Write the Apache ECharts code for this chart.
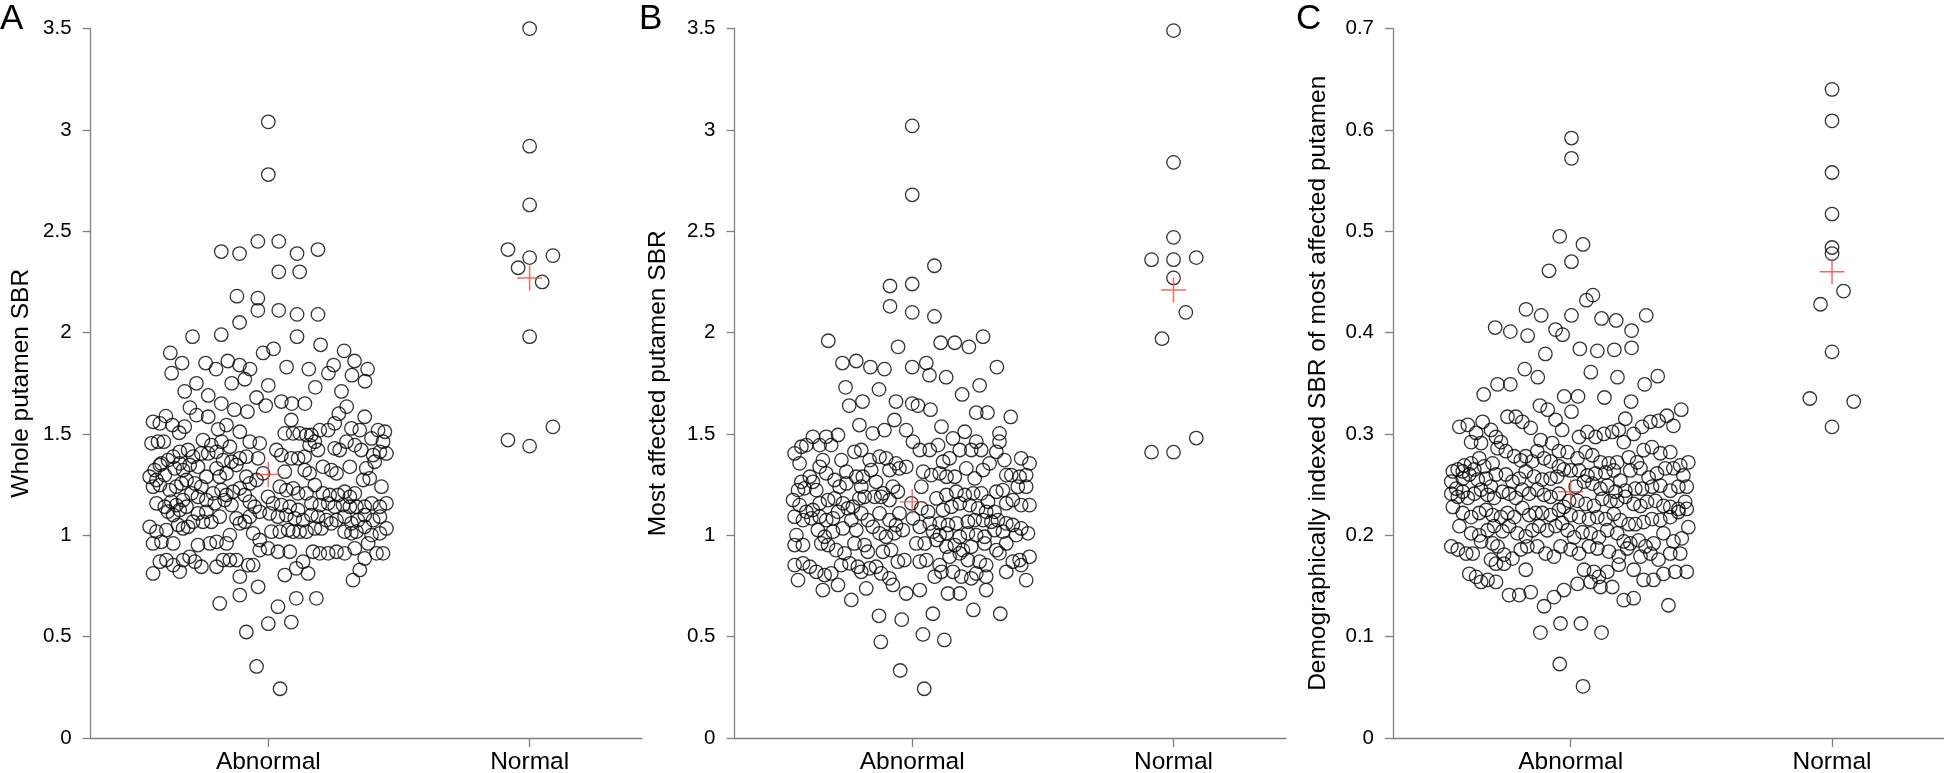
<!DOCTYPE html>
<html><head><meta charset="utf-8">
<script src="https://cdn.jsdelivr.net/npm/echarts@6/dist/echarts.min.js"></script>
<style>html,body{margin:0;padding:0;background:#fff}#c{width:1944px;height:773px}</style>
</head><body><div id="c"></div>
<script>
// ---------- categories / labels ----------
const categories = ['Abnormal', 'Normal'];
const panelLetters = ['A', 'B', 'C'];
const yNames = ['Whole putamen SBR', 'Most affected putamen SBR', 'Demographically indexed SBR of most affected putamen'];
const yTicksAB = ['0', '0.5', '1', '1.5', '2', '2.5', '3', '3.5'];
const yTicksC = ['0', '0.1', '0.2', '0.3', '0.4', '0.5', '0.6', '0.7'];

// ---------- data: [horizontal offset from category centre, value] ----------
const abnormalA = [
[0,3.04],[0,2.78],[-0.04,2.45],[0.04,2.45],[-0.18,2.40],[-0.11,2.39],[0.11,2.39],[0.19,2.41],[0.04,2.30],[0.12,2.30],[-0.12,2.18],[-0.04,2.17],[-0.04,2.11],[0.04,2.11],[0.11,2.09],[0.19,2.09],[-0.11,2.05],[-0.18,1.99],[-0.29,1.98],[0.11,1.98],[0.02,1.92],[-0.02,1.90],[0.2,1.94],[0.29,1.91],[-0.375,1.90],[-0.33,1.85],[-0.37,1.80],[-0.24,1.85],[-0.2,1.82],[-0.155,1.86],[-0.11,1.84],[-0.07,1.82],[0.07,1.83],[0.155,1.82],[0.23,1.80],[0.25,1.84],[0.33,1.86],[0.38,1.82],[0.32,1.79],[0.37,1.76],[-0.09,1.77],[-0.14,1.75],[-0.275,1.75],[0,1.74],[0.18,1.73],[-0.32,1.71],[-0.23,1.69],[0.28,1.71],[-0.18,1.65],[-0.045,1.68],[-0.01,1.64],[0.05,1.66],[0.09,1.65],[0.14,1.65],[0.30,1.635],[0.27,1.60],[-0.30,1.63],[-0.13,1.62],[-0.08,1.61],
[-0.441,1.560],[-0.415,1.552],[-0.392,1.588],[-0.367,1.544],[-0.341,1.506],[-0.320,1.536],[-0.275,1.593],[-0.230,1.585],[-0.192,1.523],[-0.160,1.544],[-0.109,1.511],[-0.071,1.462],[-0.033,1.454],[-0.447,1.454],[-0.422,1.462],[-0.400,1.462],[-0.250,1.470],[-0.218,1.445],[-0.179,1.462],[-0.147,1.437],[-0.339,1.412],[-0.307,1.421],[-0.288,1.388],[-0.364,1.388],[-0.384,1.371],[-0.409,1.355],[-0.256,1.404],[-0.230,1.404],[-0.198,1.412],[-0.173,1.371],[-0.141,1.363],[-0.109,1.380],[-0.084,1.388],[-0.039,1.380],[-0.435,1.322],[-0.415,1.347],[-0.454,1.289],[-0.428,1.273],[-0.441,1.240],[-0.415,1.248],[-0.396,1.297],[-0.339,1.355],[-0.326,1.322],[-0.358,1.330],[-0.301,1.347],[-0.269,1.338],[-0.237,1.289],[-0.198,1.330],[-0.186,1.289],[-0.160,1.306],[-0.122,1.347],[-0.084,1.289],[-0.071,1.256],[-0.045,1.273],[-0.020,1.306],[-0.377,1.223],[-0.352,1.240],[-0.332,1.256],[-0.313,1.273],[-0.281,1.256],[-0.256,1.240],[-0.211,1.207],[-0.179,1.223],[-0.160,1.199],[-0.135,1.215],[-0.109,1.232],[-0.090,1.199],[-0.428,1.158],[-0.396,1.141],[-0.371,1.166],[-0.352,1.149],[-0.326,1.174],[-0.294,1.207],[-0.269,1.190],[-0.237,1.174],[-0.205,1.158],[-0.167,1.174],[-0.141,1.149],[-0.071,1.166],[-0.052,1.141],[-0.033,1.116],[-0.384,1.117],[-0.364,1.100],[-0.339,1.125],[-0.313,1.141],[-0.269,1.108],[-0.237,1.116],[-0.250,1.067],[-0.288,1.067],[-0.218,1.067],[-0.186,1.092],[-0.122,1.084],[-0.109,1.059],[-0.090,1.067],[-0.071,1.092],[-0.454,1.042],[-0.428,1.018],[-0.390,1.026],[-0.345,1.051],[-0.326,1.034],[-0.307,1.042],[-0.441,0.960],[-0.409,0.968],[-0.364,0.960],[-0.269,0.952],[-0.224,0.960],[-0.198,0.968],[-0.160,0.960],[-0.147,1.001],[-0.058,1.010],[-0.033,0.977],[-0.033,0.927],[-0.415,0.870],[-0.390,0.878],[-0.364,0.853],[-0.326,0.878],[-0.301,0.894],[-0.281,0.870],[-0.256,0.845],[-0.198,0.845],[-0.173,0.878],[-0.147,0.878],[-0.122,0.878],[-0.077,0.853],[-0.058,0.853],[-0.441,0.812],[-0.339,0.821],[-0.109,0.796],[-0.039,0.746],[-0.109,0.705],[-0.186,0.664],
[0.088,1.569],[0.063,1.503],[0.095,1.503],[0.120,1.503],[0.146,1.495],[0.165,1.495],[0.197,1.519],[0.229,1.519],[0.254,1.552],[0.369,1.585],[0.318,1.528],[0.350,1.519],[0.395,1.478],[0.420,1.519],[0.446,1.511],[0.439,1.462],[0.178,1.462],[0.158,1.445],[0.190,1.421],[0.254,1.429],[0.273,1.421],[0.299,1.462],[0.331,1.445],[0.356,1.421],[0.031,1.421],[0.050,1.396],[0.088,1.380],[0.114,1.380],[0.139,1.388],[0.401,1.396],[0.427,1.412],[0.452,1.404],[0.063,1.314],[0.139,1.322],[0.158,1.306],[0.209,1.338],[0.241,1.322],[0.261,1.306],[0.312,1.338],[0.375,1.330],[0.388,1.281],[0.363,1.273],[0.407,1.363],[0.433,1.240],[0.044,1.240],[0.069,1.223],[0.095,1.232],[0.114,1.207],[0.146,1.207],[0.178,1.248],[0.209,1.207],[0.235,1.199],[0.267,1.199],[0.292,1.215],[0.312,1.190],[0.331,1.207],[0.395,1.158],[0.427,1.141],[0.452,1.158],[-0.001,1.190],[0.018,1.158],[0.050,1.149],[0.082,1.141],[0.114,1.125],[0.165,1.158],[0.197,1.149],[0.229,1.158],[0.254,1.141],[0.286,1.149],[0.312,1.141],[0.337,1.141],[0.369,1.141],[0.005,1.108],[0.037,1.092],[0.069,1.100],[0.101,1.084],[0.133,1.075],[0.165,1.100],[0.190,1.092],[0.222,1.075],[0.241,1.059],[0.261,1.075],[0.292,1.092],[0.318,1.059],[0.343,1.075],[0.369,1.100],[0.401,1.075],[0.427,1.092],[0.452,1.034],[0.012,1.018],[0.044,1.018],[0.076,1.026],[0.095,1.018],[0.120,1.018],[0.146,1.018],[0.178,1.034],[0.203,1.034],[0.292,1.018],[0.318,1.010],[0.337,1.018],[0.369,1.042],[0.395,1.001],[0.427,1.010],[-0.001,0.936],[0.037,0.919],[0.082,0.919],[0.171,0.919],[0.197,0.911],[0.229,0.911],[0.261,0.919],[0.292,0.911],[0.331,0.936],[0.382,0.960],[0.414,0.911],[0.439,0.911],[0.369,0.886],[0.133,0.870],[0.107,0.837],[0.152,0.812],[0.063,0.804],[0.350,0.829],[0.324,0.779],[0.037,0.648],[0.107,0.689],[0.184,0.689],
[-0.084,0.523],[0,0.564],[0.088,0.572],[-0.045,0.353],[0.045,0.243]
];
const normalA = [[0,3.50],[0,2.92],[0,2.63],[-0.083,2.41],[0.089,2.38],[0,2.37],[-0.044,2.32],[0.048,2.25],[0,1.98],[0.089,1.535],[-0.083,1.47],[0,1.44]];
const meanA = [1.30, 2.27];

const abnormalB = [
[0,3.02],[0,2.68],[0.085,2.33],[-0.085,2.23],[0,2.24],[-0.085,2.13],[0,2.10],[0.085,2.08],[-0.321,1.96],[-0.054,1.93],[0.109,1.95],[0.163,1.95],[0.217,1.93],[0.271,1.98],[-0.267,1.85],[-0.214,1.86],[-0.16,1.83],[-0.106,1.82],[0,1.83],[0.054,1.85],[0.066,1.79],[0.13,1.78],[0.324,1.83],[-0.255,1.73],[-0.127,1.72],[0.258,1.74],[0.191,1.695],[-0.241,1.64],[-0.19,1.66],[-0.062,1.66],[0,1.65],[0.022,1.64],[0.07,1.62],[0.245,1.605],[0.288,1.605],[0.377,1.584],
[-0.127,0.603],[-0.04,0.584],[0.079,0.613],[0.234,0.632],[0.337,0.613],[-0.12,0.474],[0.041,0.511],[0.123,0.484],[-0.046,0.333],[0.046,0.243],
[-0.202,1.544],[-0.151,1.503],[-0.106,1.519],[-0.068,1.569],[-0.023,1.519],[-0.380,1.486],[-0.329,1.486],[-0.284,1.495],[-0.405,1.445],[-0.354,1.445],[-0.310,1.445],[-0.450,1.404],[-0.424,1.437],[-0.221,1.412],[-0.195,1.421],[-0.163,1.371],[-0.125,1.388],[-0.100,1.380],[-0.062,1.355],[-0.023,1.338],[-0.271,1.371],[-0.342,1.371],[-0.354,1.338],[-0.431,1.355],[-0.329,1.306],[-0.252,1.314],[-0.214,1.289],[-0.189,1.289],[-0.157,1.322],[-0.087,1.322],[-0.049,1.330],[-0.392,1.289],[-0.424,1.264],[-0.437,1.223],[-0.412,1.232],[-0.367,1.223],[-0.380,1.264],[-0.297,1.273],[-0.278,1.240],[-0.252,1.256],[-0.195,1.240],[-0.138,1.264],[-0.112,1.207],[-0.074,1.240],[-0.456,1.174],[-0.431,1.149],[-0.405,1.116],[-0.380,1.125],[-0.354,1.158],[-0.322,1.174],[-0.297,1.182],[-0.265,1.158],[-0.246,1.133],[-0.227,1.141],[-0.202,1.182],[-0.182,1.190],[-0.144,1.190],[-0.119,1.190],[-0.087,1.174],[-0.055,1.215],[-0.450,1.092],[-0.418,1.075],[-0.386,1.084],[-0.354,1.092],[-0.329,1.075],[-0.303,1.084],[-0.284,1.116],[-0.233,1.075],[-0.195,1.108],[-0.170,1.075],[-0.125,1.108],[-0.087,1.075],[-0.049,1.108],[-0.062,1.051],[-0.361,1.026],[-0.335,0.993],[-0.303,1.018],[-0.265,1.034],[-0.214,1.026],[-0.151,1.042],[-0.125,1.010],[-0.100,0.993],[-0.068,1.010],[-0.036,1.026],[-0.443,1.001],[-0.450,0.952],[-0.418,0.952],[-0.348,0.960],[-0.322,0.952],[-0.291,0.927],[-0.259,0.911],[-0.221,0.960],[-0.182,0.952],[-0.170,0.919],[-0.112,0.919],[-0.081,0.927],[-0.055,0.870],[-0.030,0.878],[-0.450,0.853],[-0.418,0.862],[-0.392,0.845],[-0.367,0.820],[-0.335,0.804],[-0.310,0.812],[-0.272,0.853],[-0.240,0.862],[-0.208,0.845],[-0.195,0.820],[-0.163,0.837],[-0.138,0.845],[-0.119,0.812],[-0.087,0.788],[-0.437,0.779],[-0.284,0.755],[-0.342,0.730],[-0.233,0.681],[-0.176,0.738],[-0.074,0.755],[-0.023,0.713],
[0.112,1.536],[0.201,1.511],[0.334,1.503],[0.156,1.478],[0.245,1.462],[0.334,1.462],[0.003,1.462],[0.029,1.421],[0.067,1.421],[0.099,1.445],[0.182,1.421],[0.226,1.421],[0.264,1.421],[0.322,1.412],[0.118,1.363],[0.143,1.380],[0.207,1.330],[0.239,1.281],[0.271,1.322],[0.296,1.355],[0.353,1.371],[0.417,1.380],[0.449,1.355],[0.042,1.314],[0.073,1.297],[0.105,1.306],[0.131,1.289],[0.163,1.289],[0.360,1.297],[0.379,1.297],[0.411,1.289],[0.436,1.297],[0.035,1.240],[0.093,1.182],[0.131,1.199],[0.169,1.215],[0.201,1.199],[0.233,1.207],[0.264,1.207],[0.290,1.166],[0.322,1.215],[0.347,1.223],[0.404,1.240],[0.436,1.240],[-0.003,1.158],[0.035,1.133],[0.061,1.116],[0.118,1.125],[0.150,1.141],[0.182,1.158],[0.220,1.149],[0.252,1.133],[0.283,1.116],[0.315,1.116],[0.360,1.158],[0.385,1.174],[0.417,1.149],[0.449,1.149],[0.105,1.059],[0.080,1.018],[0.137,1.051],[0.169,1.059],[0.213,1.067],[0.239,1.075],[0.271,1.075],[0.303,1.067],[0.328,1.075],[0.360,1.059],[0.385,1.051],[0.417,1.034],[0.003,1.084],[0.029,1.042],[0.067,1.059],[0.105,1.001],[0.131,1.010],[0.182,0.993],[0.213,1.010],[0.245,1.001],[0.277,0.993],[0.315,1.026],[0.347,1.018],[0.398,1.001],[0.443,1.010],[0.016,0.960],[0.048,0.960],[0.093,0.977],[0.131,0.944],[0.163,0.952],[0.194,0.927],[0.226,0.944],[0.277,0.960],[0.322,0.927],[0.360,0.960],[0.029,0.870],[0.054,0.878],[0.105,0.853],[0.143,0.894],[0.182,0.911],[0.213,0.878],[0.258,0.870],[0.283,0.853],[0.334,0.911],[0.385,0.870],[0.411,0.878],[0.449,0.894],[0.086,0.796],[0.112,0.820],[0.156,0.820],[0.188,0.796],[0.226,0.788],[0.245,0.812],[0.283,0.796],[0.360,0.820],[0.417,0.853],[0.436,0.779],[0.137,0.713],[0.182,0.713],[0.029,0.730],[0.283,0.730]
];
const normalB = [[0,3.49],[0,2.84],[0,2.47],[-0.084,2.36],[0,2.36],[0.087,2.37],[0,2.27],[0.047,2.10],[-0.044,1.97],[0.087,1.48],[-0.084,1.41],[0,1.41]];
const meanB = [1.165, 2.21];

const abnormalC = [
[0.003,0.592],[0.003,0.572],[-0.042,0.495],[0.047,0.487],[0.003,0.470],[-0.083,0.461],[0.060,0.432],[0.085,0.437],[-0.171,0.423],[-0.113,0.417],[0.003,0.417],[0.289,0.417],[-0.289,0.405],[-0.231,0.401],[-0.058,0.403],[-0.031,0.398],[-0.165,0.397],[0.118,0.414],[0.174,0.412],[0.233,0.402],[-0.097,0.379],[0.035,0.384],[0.102,0.382],[0.167,0.383],[0.233,0.385],[-0.176,0.364],[0.077,0.361],[-0.126,0.356],[0.179,0.356],[0.333,0.357],[-0.280,0.349],[-0.231,0.349],[0.283,0.349],[-0.333,0.339],[-0.025,0.337],[0.028,0.337],[0.129,0.336],[0.231,0.332],[-0.118,0.328],[-0.088,0.324],[0.423,0.324],[0.003,0.322],
[-0.116,0.104],[-0.039,0.113],[0.039,0.113],[0.118,0.104],[-0.042,0.073],[0.047,0.051],
[-0.426,0.307],[-0.394,0.309],[-0.362,0.301],[-0.337,0.312],[-0.305,0.304],[-0.381,0.292],[-0.343,0.291],[-0.286,0.297],[-0.267,0.292],[-0.242,0.317],[-0.210,0.317],[-0.185,0.312],[-0.153,0.306],[-0.058,0.314],[-0.033,0.304],[-0.280,0.286],[-0.248,0.283],[-0.216,0.278],[-0.191,0.274],[-0.172,0.278],[-0.147,0.273],[-0.115,0.294],[-0.071,0.291],[-0.045,0.283],[-0.350,0.276],[-0.331,0.268],[-0.299,0.271],[-0.381,0.271],[-0.407,0.269],[-0.369,0.265],[-0.128,0.283],[-0.102,0.276],[-0.077,0.273],[-0.045,0.268],[-0.026,0.265],[-0.451,0.263],[-0.432,0.265],[-0.413,0.263],[-0.457,0.253],[-0.438,0.246],[-0.413,0.256],[-0.388,0.260],[-0.356,0.255],[-0.324,0.256],[-0.305,0.248],[-0.286,0.260],[-0.248,0.260],[-0.223,0.253],[-0.197,0.256],[-0.172,0.263],[-0.140,0.258],[-0.109,0.255],[-0.077,0.256],[-0.052,0.258],[-0.457,0.241],[-0.432,0.238],[-0.413,0.243],[-0.394,0.237],[-0.369,0.241],[-0.343,0.245],[-0.318,0.240],[-0.293,0.237],[-0.261,0.243],[-0.236,0.241],[-0.210,0.237],[-0.185,0.245],[-0.159,0.241],[-0.128,0.245],[-0.102,0.240],[-0.077,0.238],[-0.045,0.241],[-0.451,0.228],[-0.413,0.222],[-0.381,0.218],[-0.350,0.222],[-0.324,0.225],[-0.299,0.220],[-0.267,0.218],[-0.242,0.222],[-0.216,0.218],[-0.185,0.227],[-0.159,0.220],[-0.134,0.222],[-0.109,0.222],[-0.077,0.220],[-0.045,0.225],[-0.026,0.228],[-0.426,0.209],[-0.381,0.202],[-0.350,0.200],[-0.318,0.205],[-0.293,0.209],[-0.261,0.204],[-0.236,0.209],[-0.204,0.202],[-0.172,0.199],[-0.147,0.205],[-0.121,0.209],[-0.090,0.205],[-0.058,0.209],[-0.033,0.212],[-0.457,0.189],[-0.432,0.186],[-0.400,0.182],[-0.375,0.182],[-0.343,0.194],[-0.299,0.192],[-0.280,0.189],[-0.255,0.181],[-0.223,0.177],[-0.191,0.186],[-0.166,0.189],[-0.128,0.189],[-0.096,0.182],[-0.064,0.179],[-0.039,0.189],[-0.305,0.176],[-0.286,0.172],[-0.255,0.172],[-0.388,0.162],[-0.362,0.159],[-0.343,0.154],[-0.318,0.156],[-0.286,0.154],[-0.172,0.166],[-0.236,0.141],[-0.197,0.141],[-0.153,0.144],[-0.102,0.130],[-0.064,0.139],[-0.026,0.146],
[0.209,0.315],[0.305,0.312],[0.336,0.313],[0.368,0.318],[0.393,0.308],[0.241,0.300],[0.273,0.307],[0.032,0.297],[0.064,0.302],[0.095,0.297],[0.127,0.300],[0.159,0.302],[0.184,0.304],[0.203,0.292],[-0.012,0.282],[0.026,0.276],[0.057,0.282],[0.083,0.279],[0.114,0.272],[0.146,0.271],[0.178,0.272],[0.222,0.277],[0.254,0.272],[0.279,0.284],[0.311,0.287],[0.343,0.281],[0.381,0.282],[0.419,0.269],[0.450,0.272],[0.000,0.264],[0.032,0.264],[0.064,0.259],[0.095,0.261],[0.133,0.262],[0.165,0.264],[0.190,0.254],[0.228,0.264],[0.267,0.266],[0.298,0.257],[0.330,0.261],[0.362,0.266],[0.393,0.266],[0.431,0.259],[0.019,0.248],[0.051,0.253],[0.083,0.251],[0.114,0.246],[0.140,0.249],[0.171,0.243],[0.209,0.244],[0.247,0.246],[0.273,0.246],[0.311,0.248],[0.343,0.249],[0.381,0.244],[0.412,0.248],[0.444,0.248],[-0.006,0.234],[0.026,0.234],[0.057,0.231],[0.089,0.229],[0.121,0.236],[0.152,0.234],[0.178,0.234],[0.209,0.238],[0.241,0.231],[0.267,0.229],[0.292,0.233],[0.324,0.234],[0.355,0.229],[0.381,0.228],[0.412,0.226],[0.438,0.233],[0.000,0.220],[0.032,0.218],[0.070,0.216],[0.102,0.218],[0.133,0.216],[0.165,0.221],[0.190,0.215],[0.222,0.211],[0.247,0.211],[0.279,0.213],[0.311,0.216],[0.343,0.215],[0.381,0.218],[0.412,0.223],[0.444,0.226],[-0.012,0.205],[0.013,0.198],[0.045,0.203],[0.076,0.202],[0.108,0.198],[0.140,0.205],[0.178,0.202],[0.203,0.194],[0.228,0.192],[0.260,0.195],[0.286,0.189],[0.317,0.192],[0.355,0.202],[0.393,0.194],[0.425,0.197],[0.450,0.208],[0.000,0.186],[0.032,0.182],[0.070,0.189],[0.102,0.187],[0.146,0.184],[0.184,0.179],[0.216,0.187],[0.267,0.179],[0.305,0.182],[0.336,0.176],[0.381,0.182],[0.419,0.182],[0.051,0.166],[0.089,0.164],[0.108,0.159],[0.140,0.164],[0.184,0.171],[0.241,0.166],[0.279,0.156],[0.317,0.156],[0.355,0.162],[0.400,0.164],[0.444,0.164],[0.026,0.152],[0.076,0.154],[0.114,0.149],[0.159,0.149],[0.203,0.136],[0.241,0.138],[0.374,0.131]
];
const normalC = [[0,0.640],[0,0.609],[0,0.558],[0,0.517],[0,0.484],[0,0.478],[0.044,0.441],[-0.044,0.428],[0,0.381],[-0.085,0.335],[0.083,0.332],[0,0.307]];
const meanC = [0.243, 0.46];

const panels = [
  {abn: abnormalA, nor: normalA, mean: meanA, max: 3.5, step: 0.5, ticks: yTicksAB},
  {abn: abnormalB, nor: normalB, mean: meanB, max: 3.5, step: 0.5, ticks: yTicksAB},
  {abn: abnormalC, nor: normalC, mean: meanC, max: 0.7, step: 0.1, ticks: yTicksC}
];

// ---------- layout / style ----------
const FONT = '"Liberation Sans", Arial, Helvetica, sans-serif';
const gridLeft = [90.6, 734.5, 1393];
const nameGaps = [57, 64, 62];
const letterX = [0, 639, 1296];
const AXIS = '#808080';
const plusPath = 'path://M11.3,0h1.4v11.3h11.3v1.4h-11.3v11.3h-1.4v-11.3h-11.3v-1.4h11.3z';

const grid = [], xAxis = [], yAxis = [], series = [], graphic = [];
panels.forEach((p, i) => {
  grid.push({left: gridLeft[i], top: 28.6, width: 551.4, height: 709.4, containLabel: false, outerBoundsMode: 'none'});
  xAxis.push({
    type: 'value', gridIndex: i, min: 0.32, max: 2.43,
    axisLine: {show: true, onZero: false, lineStyle: {color: AXIS, width: 1.3}},
    axisTick: {show: true, customValues: [1, 2], length: 9, lineStyle: {color: AXIS, width: 1.3}},
    axisLabel: {show: true, customValues: [1, 2], formatter: v => categories[Math.round(v) - 1],
      fontSize: 24.5, color: '#000', fontFamily: FONT, margin: 12},
    splitLine: {show: false}
  });
  yAxis.push({
    type: 'value', gridIndex: i, min: 0, max: p.max, interval: p.step,
    name: yNames[i], nameLocation: 'middle', nameGap: nameGaps[i],
    nameTextStyle: {fontSize: 24.5, color: '#000', fontFamily: FONT},
    axisLine: {show: true, lineStyle: {color: AXIS, width: 1.3}},
    axisTick: {show: true, length: 8, lineStyle: {color: AXIS, width: 1.3}},
    axisLabel: {show: true, fontSize: 20.5, color: '#000', fontFamily: FONT, margin: 19,
      formatter: v => p.ticks[Math.round(v / p.step)]},
    splitLine: {show: false}
  });
  const circleStyle = {color: 'rgba(0,0,0,0)', borderColor: '#000', borderWidth: 1.3};
  series.push({
    type: 'scatter', xAxisIndex: i, yAxisIndex: i, symbol: 'circle', symbolSize: 13.5,
    itemStyle: circleStyle, silent: true,
    data: p.abn.map(d => [1 + d[0], d[1]])
  });
  series.push({
    type: 'scatter', xAxisIndex: i, yAxisIndex: i, symbol: 'circle', symbolSize: 13.5,
    itemStyle: circleStyle, silent: true,
    data: p.nor.map(d => [2 + d[0], d[1]])
  });
  series.push({
    type: 'scatter', xAxisIndex: i, yAxisIndex: i, symbol: plusPath, symbolSize: 25,
    itemStyle: {color: '#f0443f'}, silent: true, z: 5,
    data: p.mean.map((m, k) => [k + 1, m])
  });
  graphic.push({type: 'text', left: letterX[i], top: 2,
    style: {text: panelLetters[i], font: '35px ' + FONT, fill: '#000'}});
});

const chart = echarts.init(document.getElementById('c'), null, {renderer: 'canvas'});
chart.setOption({animation: false, backgroundColor: '#fff', grid, xAxis, yAxis, series, graphic});
</script></body></html>
